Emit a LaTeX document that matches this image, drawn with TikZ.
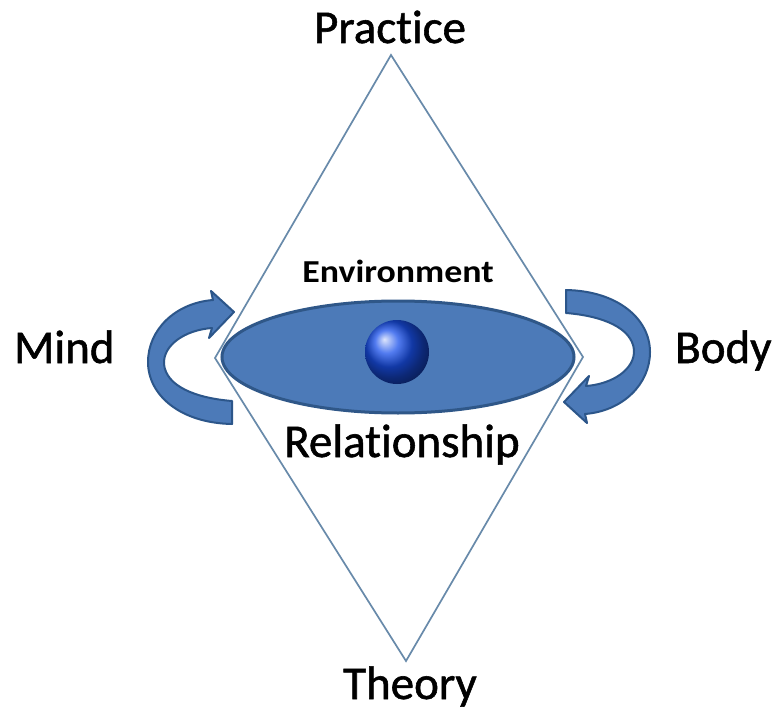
\documentclass[tikz,border=0pt]{standalone}
\usepackage{fontspec}
\setmainfont[Ligatures=NoCommon]{Carlito}
\newfontfamily\labelfont[FakeBold=1.2,Ligatures=NoCommon]{Carlito}
\newfontfamily\headfont[Ligatures=NoCommon]{Carlito}
\usetikzlibrary{shapes.geometric}
\definecolor{bandblue}{RGB}{76,122,184}
\definecolor{banddark}{RGB}{44,86,138}
\definecolor{rimblue}{RGB}{47,87,136}
\definecolor{edgegrey}{RGB}{104,138,170}
\tikzset{
  bigword/.style={font=\labelfont\fontsize{47}{50}\selectfont, inner sep=0pt, anchor=base, text=black},
  smallword/.style={font=\headfont\bfseries\fontsize{32}{36}\selectfont, inner sep=0pt, anchor=base, text=black, xscale=1.12},
  ribbon/.style={fill=bandblue, draw=banddark, line width=2pt, line join=round},
  frame/.style={draw=edgegrey, line width=1.7pt, line join=miter},
}
\begin{document}
\begin{tikzpicture}[x=1pt,y=-1pt]
\useasboundingbox (0,0) rectangle (773,711);
\fill[white] (0,0) rectangle (773,711);

% corner points of the diamond
\coordinate (top) at (391,55);
\coordinate (right) at (583,357);
\coordinate (bottom) at (406,661);
\coordinate (left) at (215,358);
\draw[frame] (top) -- (right) -- (bottom) -- (left) -- cycle;

% the flat disc with the ball on it
\node[ellipse, minimum width=352pt, minimum height=112pt, fill=bandblue, draw=rimblue, line width=3pt, inner sep=0pt] (disc) at (398,357) {};
\node[circle, minimum size=64pt, inner sep=0pt, shading=ball, ball color={rgb,255:red,25;green,80;blue,235}] (ball) at (397,352) {};

% curved arrow on the left; the right one is the same shape turned half a turn
\def\curvedarrow{
  (232,401) .. controls (195,398) and (166,386) .. (164,364)
  .. controls (163,345) and (185,330) .. (212,328)
  -- (209,338) -- (234,312) -- (211,291) -- (213,300)
  .. controls (175,303) and (148,330) .. (148,362)
  .. controls (148,395) and (180,423) .. (232,424) -- cycle}
\draw[ribbon] \curvedarrow;
\draw[ribbon, rotate around={180:(399,357)}] \curvedarrow;

% labels
\node[bigword] (practice) at (390,43) {Practice};
\node[bigword] (theory) at (410,699) {Theory};
\node[bigword, anchor=base west] (mind) at (14,363) {Mind};
\node[bigword, anchor=base west] (body) at (675,363) {Body};
\node[bigword] (relation) at (402,457) {Relationship};
\node[smallword] (environment) at (398,282) {Environment};
\end{tikzpicture}
\end{document}
